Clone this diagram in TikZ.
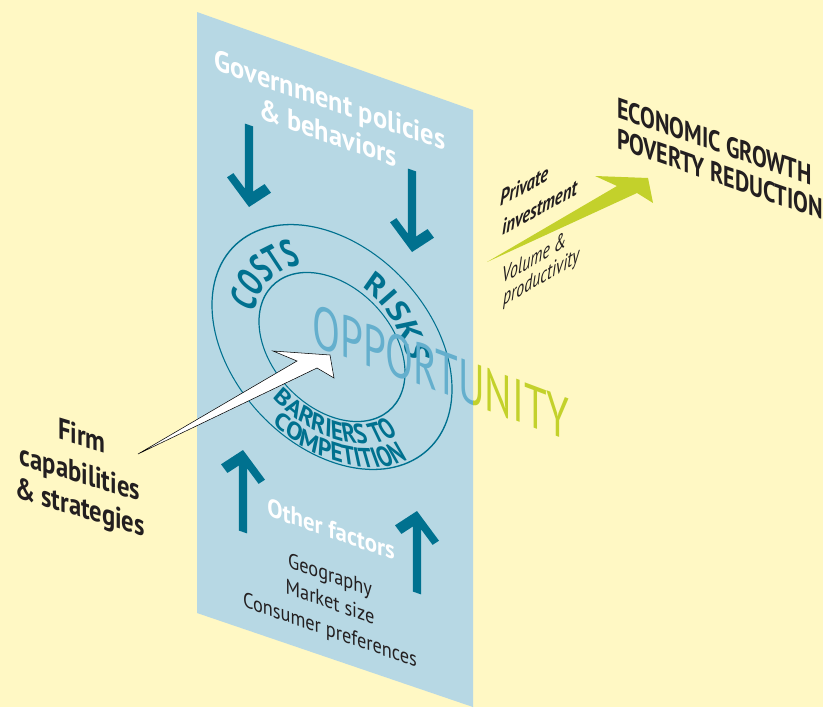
\documentclass[tikz,border=0pt]{standalone}
\usepackage{fontspec}
\setmainfont{PT Sans}
\usetikzlibrary{decorations.text}
\definecolor{bgyellow}{HTML}{FFF8C4}
\definecolor{panelblue}{HTML}{B7D8E4}
\definecolor{ringteal}{HTML}{00718F}
\definecolor{growthgreen}{HTML}{C3D12B}
\definecolor{oppblue}{HTML}{64AFCD}
\definecolor{inkdark}{HTML}{231F20}
\newcommand\ringfont{\bfseries\addfontfeature{FakeStretch=0.85}\fontsize{26}{26}\selectfont}
\newcommand\barrierfont{\bfseries\addfontfeature{FakeStretch=0.9}\fontsize{19.5}{19.5}\selectfont}
\tikzset{
  plane/.style={yslant=-0.35},
  lbl/.style={inner sep=0pt, anchor=base},
  govlbl/.style={lbl, plane, xscale=0.9, text=white, font=\bfseries\fontsize{22}{24}\selectfont},
  otherlbl/.style={lbl, plane, xscale=0.9, text=white, font=\bfseries\fontsize{19}{20}\selectfont},
  factorlbl/.style={lbl, plane, xscale=0.86, text=inkdark, font=\fontsize{16}{18}\selectfont},
  firmlbl/.style={lbl, yslant=-0.3, xscale=0.82, text=inkdark, font=\bfseries\fontsize{22.5}{24}\selectfont},
  goallbl/.style={lbl, anchor=base west, yslant=-0.35, xscale=0.77, text=inkdark, font=\bfseries\fontsize{21.5}{24}\selectfont},
  investlbl/.style={lbl, anchor=base west, yslant=0.55, xscale=0.76, text=inkdark, font=\bfseries\itshape\fontsize{16.5}{18}\selectfont},
  volumelbl/.style={lbl, anchor=base west, yslant=0.58, xscale=0.72, text=inkdark, font=\itshape\fontsize{16.5}{18}\selectfont},
  opplbl/.style={inner sep=0pt, yslant=-0.375, xscale=0.68, font=\fontsize{45}{45}\selectfont},
  ring/.style={draw=ringteal, line width=0.9pt},
  ringtext/.style={decorate, decoration={text along path, text color=ringteal, text align=center}},
}
\begin{document}
\begin{tikzpicture}[x=0.75pt,y=-0.75pt]
  \useasboundingbox (0,0) rectangle (823,707);
  \fill[bgyellow] (0,0) rectangle (823,707);
  % the plane
  \fill[panelblue] (197,12) -- (473,110) -- (473,707) -- (197,613) -- cycle;

  \def\arrowshape{(0,0) -- (22,-22) -- (15.6,-28.4) -- (4.2,-17) -- (4.2,-82) -- (-4.2,-82) -- (-4.2,-17) -- (-15.6,-28.4) -- (-22,-22) -- cycle}
  \fill[ringteal, shift={(249,207)}, plane] \arrowshape;
  \fill[ringteal, shift={(412,252)}, plane] \arrowshape;
  \fill[ringteal, shift={(243,450)}, plane, yscale=-1] \arrowshape;
  \fill[ringteal, shift={(417,511)}, plane, yscale=-1] \arrowshape;

  \node[govlbl] (gov1) at (330,110) {Government policies};
  \node[govlbl] (gov2) at (328,143) {\& behaviors};

  \begin{scope}[transform canvas={shift={(332,347)}, plane}]
    \draw[ring] (0,0) ellipse [x radius=120, y radius=115];
    \draw[ring] (0,0) ellipse [x radius=73, y radius=70];
    \path[ringtext, decoration={text={|\ringfont|COSTS}}]
      (180:77) arc[start angle=180, end angle=252, radius=77];
    \path[ringtext, decoration={text={|\ringfont|RISKS}}]
      (284:77) arc[start angle=284, end angle=358, radius=77];
    \path[ringtext, decoration={text={|\barrierfont|BARRIERS TO}}]
      (152:94 and 91) arc[start angle=152, end angle=22, x radius=94, y radius=91];
    \path[ringtext, decoration={text={|\barrierfont|COMPETITION}}]
      (152:117 and 113) arc[start angle=152, end angle=18, x radius=117, y radius=113];
  \end{scope}

  % opportunity, half on the plane
  \begin{scope}
    \clip (197,12) -- (473,110) -- (473,707) -- (197,613) -- cycle;
    \node[opplbl, text=oppblue] (oppin) at (441,372) {OPPORTUNITY};
  \end{scope}
  \begin{scope}
    \clip (473,0) rectangle (823,707);
    \node[opplbl, text=growthgreen] (oppout) at (441,372) {OPPORTUNITY};
  \end{scope}

  \node[otherlbl] (other) at (331,538) {Other factors};
  \node[factorlbl] (geo) at (330,582) {Geography};
  \node[factorlbl] (market) at (330,609) {Market size};
  \node[factorlbl] (consumer) at (330,637) {Consumer preferences};

  \node[firmlbl] (firm1) at (82,446) {Firm};
  \node[firmlbl] (firm2) at (80,483) {capabilities};
  \node[firmlbl] (firm3) at (80,517) {\& strategies};

  \coordinate (firmtail) at (138,454);
  \coordinate (firmtip) at (330,355);
  \filldraw[fill=white, draw=black, line width=0.4pt] (firmtail) -- (297,361) -- (273,351) -- (firmtip) -- (334,378) -- (317,368) -- cycle;

  \coordinate (investtail) at (487,262);
  \coordinate (investtip) at (648,178);
  \fill[growthgreen] (investtail) -- (617,186) -- (595,176) -- (investtip) -- (653,203) -- (637,193) -- cycle;

  \node[investlbl] (private) at (500,207) {Private};
  \node[investlbl] (investment) at (502,236) {investment};
  \node[volumelbl] (volume) at (502,284) {Volume \&};
  \node[volumelbl] (productivity) at (503,306) {productivity};

  \node[goallbl] (growth) at (617,117) {ECONOMIC GROWTH};
  \node[goallbl] (poverty) at (617,148) {POVERTY REDUCTION};
\end{tikzpicture}
\end{document}
